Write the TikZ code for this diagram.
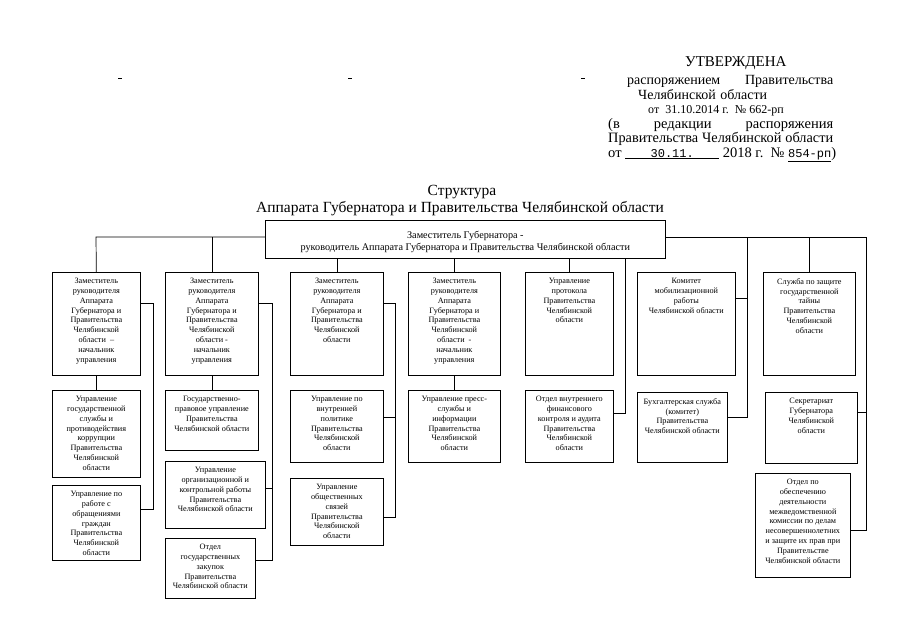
\documentclass[tikz,border=0pt]{standalone}
\usepackage{fontspec}
\setmainfont{Liberation Serif}
\newfontfamily\typefont{Liberation Mono}
\usetikzlibrary{positioning}
\newcommand{\orgbox}[4][6pt]{\parbox[c][#3][t]{#2}{\centering\vspace*{#1}#4}}
\newcommand{\unitfont}{\fontsize{8.2}{9.8}\selectfont}
\tikzset{
  unit/.style={
    draw,
    line width=0.7pt,
    inner sep=0pt,
    anchor=north west,
    font=\unitfont
  },
  link/.style={line width=0.7pt},
  hdr/.style={
    anchor=base west,
    inner sep=0pt,
    font=\fontsize{14}{14}\selectfont
  }
}

\begin{document}
\begin{tikzpicture}[x=1pt,y=-1pt]
      \useasboundingbox[fill=white] (0,0) rectangle (905,640);
      % marks on the scan
      \foreach \mx in {118,348,581}
        \draw[line width=0.9pt] (\mx,78) -- ++(4,0);
      % approval lines
      \node [hdr, font=\fontsize{15}{15}\selectfont] (Appr) at (685,66) {УТВЕРЖДЕНА};
      \node [hdr] (ApprB) at (627,84) {\makebox[206pt][s]{распоряжением\ \hfill Правительства}};
      \node [hdr] (ApprC) at (638,99) {\makebox[129pt][s]{Челябинской\ \hfill области}};
      \node [hdr, font=\fontsize{12}{12}\selectfont] (ApprD) at (648,113.5) {от\ \ 31.10.2014 г.\ \ № 662-рп};
      \node [hdr, font=\fontsize{14.5}{14.5}\selectfont] (ApprE) at (608,128) {\makebox[225pt][s]{(в\ \hfill редакции\ \hfill распоряжения}};
      \node [hdr, font=\fontsize{14.3}{14.3}\selectfont] (ApprF) at (608,142.5) {\makebox[225pt][s]{Правительства\ \hfill Челябинской\ \hfill области}};
      \node [hdr, font=\fontsize{14.5}{14.5}\selectfont] (ApprG) at (608,157) {от \underline{\makebox[94pt]{\typefont\fontsize{12}{12}\selectfont 30.11.}} 2018 г.\ \ № \underline{\typefont\fontsize{12}{12}\selectfont 854-рп})};
      % title
      \node [anchor=base, inner sep=0pt, font=\fontsize{15.5}{16}\selectfont] (TitleA) at (462,195) {Структура};
      \node [anchor=base, inner sep=0pt, font=\fontsize{15.5}{16}\selectfont] (TitleB) at (460,212) {Аппарата Губернатора и Правительства Челябинской области};
      % head
      \node [unit, font=\fontsize{10.2}{12}\selectfont] (Head) at (265,220) {\orgbox[11pt]{400pt}{38pt}{Заместитель Губернатора -\\руководитель Аппарата Губернатора и Правительства Челябинской области}};
      % first row
      \node [unit] (DepA) at (52,272) {\orgbox{88pt}{103pt}{Заместитель\\руководителя\\Аппарата\\Губернатора и\\Правительства\\Челябинской\\области\ \ –\\начальник\\управления}};
      \node [unit] (DepB) at (165,272) {\orgbox{93pt}{103pt}{Заместитель\\руководителя\\Аппарата\\Губернатора и\\Правительства\\Челябинской\\области -\\начальник\\управления}};
      \node [unit] (DepC) at (290,272) {\orgbox{93pt}{103pt}{Заместитель\\руководителя\\Аппарата\\Губернатора и\\Правительства\\Челябинской\\области}};
      \node [unit] (DepD) at (408,272) {\orgbox{92pt}{103pt}{Заместитель\\руководителя\\Аппарата\\Губернатора и\\Правительства\\Челябинской\\области\ \ -\\начальник\\управления}};
      \node [unit] (Protocol) at (525,272) {\orgbox{88pt}{103pt}{Управление\\протокола\\Правительства\\Челябинской\\области}};
      \node [unit] (Mobil) at (637,272) {\orgbox{98pt}{103pt}{Комитет\\мобилизационной\\работы\\Челябинской области}};
      \node [unit] (StateSecret) at (763,272) {\orgbox{92pt}{103pt}{Служба по защите\\государственной\\тайны\\Правительства\\Челябинской\\области}};
      % second row
      \node [unit] (CivilServ) at (52,390) {\orgbox{88pt}{87pt}{Управление\\государственной\\службы и\\противодействия\\коррупции\\Правительства\\Челябинской\\области}};
      \node [unit] (StateLaw) at (165,390) {\orgbox{93pt}{60pt}{Государственно-\\правовое управление\\Правительства\\Челябинской области}};
      \node [unit] (Domestic) at (290,390) {\orgbox{93pt}{72pt}{Управление по\\внутренней\\политике\\Правительства\\Челябинской\\области}};
      \node [unit] (Press) at (408,390) {\orgbox{92pt}{72pt}{Управление пресс-\\службы и\\информации\\Правительства\\Челябинской\\области}};
      \node [unit] (Audit) at (525,390) {\orgbox{88pt}{72pt}{Отдел внутреннего\\финансового\\контроля и аудита\\Правительства\\Челябинской\\области}};
      \node [unit] (Account) at (637,392) {\orgbox{90pt}{70pt}{Бухгалтерская служба\\(комитет)\\Правительства\\Челябинской области}};
      \node [unit] (Secretariat) at (765,392) {\orgbox{92pt}{71pt}{Секретариат\\Губернатора\\Челябинской\\области}};
      % lower rows
      \node [unit] (Appeals) at (52,485) {\orgbox{88pt}{75pt}{Управление по\\работе с\\обращениями\\граждан\\Правительства\\Челябинской\\области}};
      \node [unit] (OrgControl) at (165,461) {\orgbox{100pt}{67pt}{Управление\\организационной и\\контрольной работы\\Правительства\\Челябинской области}};
      \node [unit] (Public) at (290,478) {\orgbox{93pt}{67pt}{Управление\\общественных\\связей\\Правительства\\Челябинской\\области}};
      \node [unit] (Minors) at (755,473) {\orgbox{95pt}{104pt}{Отдел по\\обеспечению\\деятельности\\межведомственной\\комиссии по делам\\несовершеннолетних\\и защите их прав при\\Правительстве\\Челябинской области}};
      \node [unit] (Purchase) at (165,538) {\orgbox{90pt}{60pt}{Отдел\\государственных\\закупок\\Правительства\\Челябинской области}};
      % rail and buses
      \coordinate (RailL) at (96,237);
      \coordinate (RailR) at (866,237);
      \coordinate (BusA) at (153,303);
      \coordinate (BusAEnd) at (153,509);
      \coordinate (BusB) at (272,303);
      \coordinate (BusBMid) at (272,488);
      \coordinate (BusBEnd) at (272,560);
      \coordinate (BusC) at (395,303);
      \coordinate (BusCMid) at (395,417);
      \coordinate (BusCEnd) at (395,517);
      \coordinate (BusE) at (625,413);
      \coordinate (BusF) at (747,298);
      \coordinate (BusFEnd) at (747,417);
      \coordinate (BusGMid) at (866,412);
      \coordinate (BusGEnd) at (866,530);
      \draw[link] (Head.west |- RailL) -- (RailL) -- (DepA.north);
      \draw[link] (DepB.north |- RailL) -- (DepB.north);
      \draw[link] (Head.east |- RailR) -- (RailR) -- (BusGEnd) -- (Minors.east |- BusGEnd);
      \draw[link] (StateSecret.north |- RailR) -- (StateSecret.north);
      \draw[link] (BusGMid) -- (Secretariat.east |- BusGMid);
      \draw[link] (BusF |- RailR) -- (BusFEnd) -- (Account.east |- BusFEnd);
      \draw[link] (BusF) -- (Mobil.east |- BusF);
      \draw[link] (DepC.north |- Head.south) -- (DepC.north);
      \draw[link] (DepD.north |- Head.south) -- (DepD.north);
      \draw[link] (Protocol.north |- Head.south) -- (Protocol.north);
      \draw[link] (BusE |- Head.south) -- (BusE) -- (Audit.east |- BusE);
      \draw[link] (DepA) -- (CivilServ);
      \draw[link] (DepB) -- (StateLaw);
      \draw[link] (DepD) -- (Press);
      \draw[link] (DepA.east |- BusA) -- (BusA) -- (BusAEnd) -- (Appeals.east |- BusAEnd);
      \draw[link] (DepB.east |- BusB) -- (BusB) -- (BusBEnd) -- (Purchase.east |- BusBEnd);
      \draw[link] (BusBMid) -- (OrgControl.east |- BusBMid);
      \draw[link] (DepC.east |- BusC) -- (BusC) -- (BusCEnd) -- (Public.east |- BusCEnd);
      \draw[link] (BusCMid) -- (Domestic.east |- BusCMid);
\end{tikzpicture}
\end{document}
